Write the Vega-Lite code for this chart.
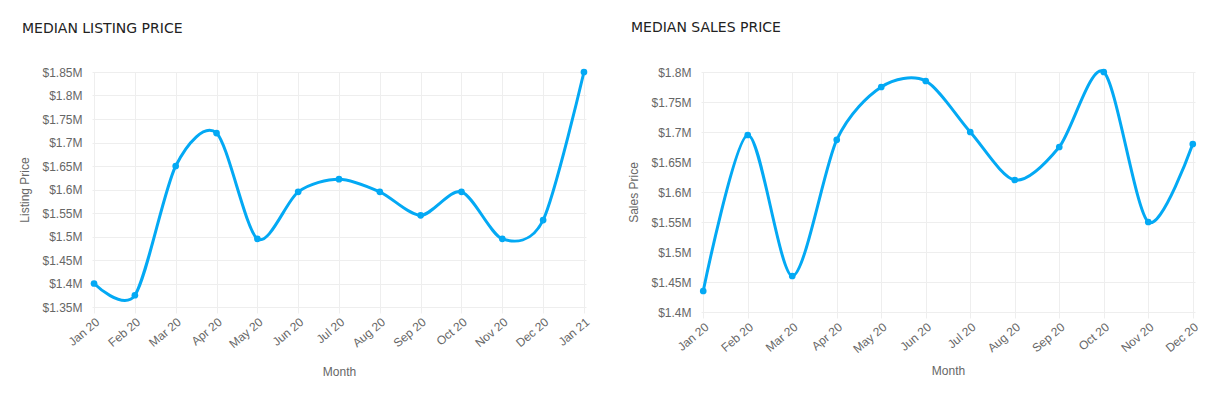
{
  "$schema": "https://vega.github.io/schema/vega-lite/v6.json",
  "background": "white",
  "padding": {"left": 18, "top": 20, "right": 5, "bottom": 5},
  "spacing": 35,
  "datasets": {
    "listing": [
      {"month": "Jan 20", "price": 1400000},
      {"month": "Feb 20", "price": 1375000},
      {"month": "Mar 20", "price": 1650000},
      {"month": "Apr 20", "price": 1720000},
      {"month": "May 20", "price": 1495000},
      {"month": "Jun 20", "price": 1595000},
      {"month": "Jul 20", "price": 1622000},
      {"month": "Aug 20", "price": 1595000},
      {"month": "Sep 20", "price": 1545000},
      {"month": "Oct 20", "price": 1595000},
      {"month": "Nov 20", "price": 1495000},
      {"month": "Dec 20", "price": 1535000},
      {"month": "Jan 21", "price": 1850000}
    ],
    "sales": [
      {"month": "Jan 20", "price": 1435000},
      {"month": "Feb 20", "price": 1695000},
      {"month": "Mar 20", "price": 1460000},
      {"month": "Apr 20", "price": 1687000},
      {"month": "May 20", "price": 1775000},
      {"month": "Jun 20", "price": 1785000},
      {"month": "Jul 20", "price": 1700000},
      {"month": "Aug 20", "price": 1620000},
      {"month": "Sep 20", "price": 1675000},
      {"month": "Oct 20", "price": 1800000},
      {"month": "Nov 20", "price": 1550000},
      {"month": "Dec 20", "price": 1680000}
    ]
  },
  "hconcat": [
    {
      "title": {"text": "MEDIAN LISTING PRICE"},
      "width": 494,
      "height": 235,
      "data": {"name": "listing"},
      "encoding": {
        "x": {"field": "month", "type": "nominal", "sort": null, "title": "Month",
              "scale": {"type": "point", "padding": 0.05},
              "axis": {"titlePadding": 17}},
        "y": {"field": "price", "type": "quantitative", "title": "Listing Price",
              "scale": {"domain": [1350000, 1850000], "nice": false, "zero": false},
              "axis": {"tickCount": 10}}
      },
      "layer": [
        {"mark": {"type": "line", "interpolate": "cardinal", "tension": 0.15, "color": "#03A9F4", "strokeWidth": 3}},
        {"mark": {"type": "point", "filled": true, "opacity": 1, "color": "#03A9F4", "size": 45}}
      ]
    },
    {
      "title": {"text": "MEDIAN SALES PRICE"},
      "width": 494,
      "height": 240,
      "data": {"name": "sales"},
      "encoding": {
        "x": {"field": "month", "type": "nominal", "sort": null, "title": "Month",
              "scale": {"type": "point", "padding": 0.05},
              "axis": {"titlePadding": 11}},
        "y": {"field": "price", "type": "quantitative", "title": "Sales Price",
              "scale": {"domain": [1400000, 1800000], "nice": false, "zero": false},
              "axis": {"tickCount": 8}}
      },
      "layer": [
        {"mark": {"type": "line", "interpolate": "cardinal", "tension": 0.15, "color": "#03A9F4", "strokeWidth": 3}},
        {"mark": {"type": "point", "filled": true, "opacity": 1, "color": "#03A9F4", "size": 45}}
      ]
    }
  ],
  "config": {
    "view": {"stroke": null},
    "title": {"anchor": "start", "font": "DejaVu Sans", "fontSize": 14, "fontWeight": "normal", "color": "#222222", "offset": 30, "dx": 3},
    "axis": {
      "labelFont": "Liberation Sans", "labelFontSize": 12, "labelColor": "#666666",
      "titleFont": "Liberation Sans", "titleFontSize": 12, "titleColor": "#666666", "titleFontWeight": "normal",
      "gridColor": "#eeeeee", "domain": false, "tickColor": "#eeeeee"
    },
    "axisY": {
      "labelExpr": "'$' + format(datum.value / 1000000, '.3~g') + 'M'",
      "tickSize": 0, "labelPadding": 10, "titlePadding": 10
    },
    "axisX": {
      "grid": true, "labelAngle": -40, "tickSize": 6, "labelPadding": 3
    }
  }
}
